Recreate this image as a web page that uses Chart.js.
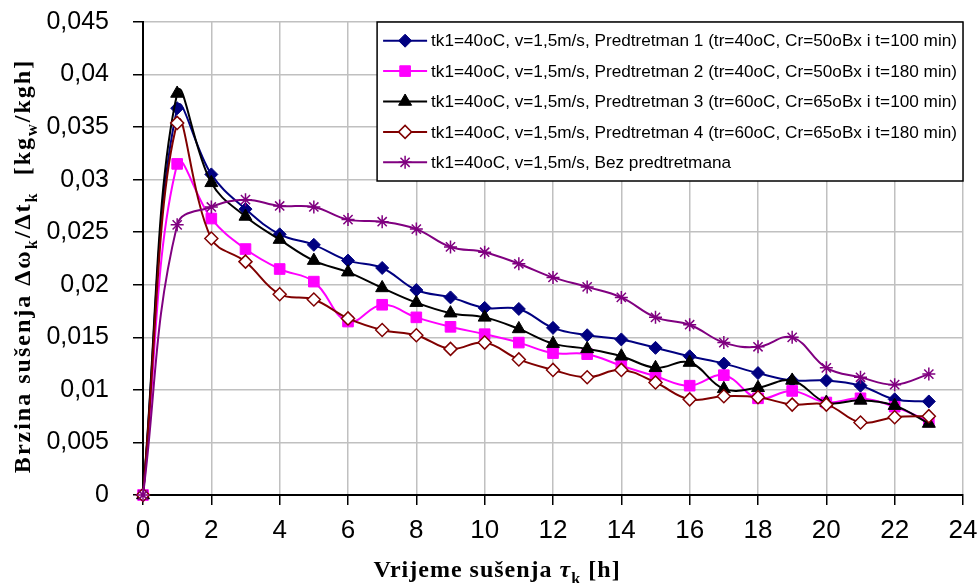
<!DOCTYPE html>
<html>
<head>
<meta charset="utf-8">
<title>Brzina sušenja</title>
<script src="https://cdn.jsdelivr.net/npm/chart.js@4.4.1/dist/chart.umd.min.js"></script>
<style>
  body { margin: 0; background: #fff; }
  #wrap { width: 980px; height: 583px; }
</style>
</head>
<body>
<div id="wrap"><canvas id="chart"></canvas></div>
<script>
// vrijeme susenja [h]
const hours = [0, 1, 2, 3, 4, 5, 6, 7, 8, 9, 10, 11, 12, 13, 14, 15, 16, 17, 18, 19, 20, 21, 22, 23];

// brzina susenja [kgw/kgh]
const predtretman1 = [0, 0.0368, 0.0305, 0.0272, 0.0248, 0.0238, 0.0223, 0.0216, 0.0195, 0.0188, 0.0178, 0.0177,
  0.0159, 0.0152, 0.0148, 0.0140, 0.0132, 0.0125, 0.0116, 0.0109, 0.0109, 0.0104, 0.0091, 0.0089];
const predtretman2 = [0, 0.0315, 0.0263, 0.0234, 0.0215, 0.0203, 0.0165, 0.0181, 0.0169, 0.0160, 0.0153, 0.0145,
  0.0135, 0.0134, 0.0123, 0.0113, 0.0104, 0.0114, 0.0092, 0.0099, 0.0088, 0.0092, 0.0084, 0.0070];
const predtretman3 = [0, 0.0382, 0.0297, 0.0265, 0.0243, 0.0223, 0.0212, 0.0197, 0.0183, 0.0173, 0.0169, 0.0158,
  0.0144, 0.0139, 0.0132, 0.0121, 0.0126, 0.0101, 0.0102, 0.0109, 0.0088, 0.0090, 0.0085, 0.0068];
const predtretman4 = [0, 0.0354, 0.0244, 0.0222, 0.0191, 0.0186, 0.0168, 0.0157, 0.0152, 0.0139, 0.0145, 0.0129,
  0.0119, 0.0112, 0.0119, 0.0107, 0.0091, 0.0094, 0.0093, 0.0086, 0.0086, 0.0069, 0.0074, 0.0075];
const bezPredtretmana = [0, 0.0257, 0.0274, 0.0281, 0.0275, 0.0274, 0.0262, 0.0260, 0.0253, 0.0236, 0.0231, 0.0220,
  0.0207, 0.0198, 0.0188, 0.0169, 0.0162, 0.0145, 0.0141, 0.0150, 0.0121, 0.0112, 0.0105, 0.0115];

const seriesNames = [
  'tk1=40oC, v=1,5m/s, Predtretman 1 (tr=40oC, Cr=50oBx i t=100 min)',
  'tk1=40oC, v=1,5m/s, Predtretman 2 (tr=40oC, Cr=50oBx i t=180 min)',
  'tk1=40oC, v=1,5m/s, Predtretman 3 (tr=60oC, Cr=65oBx i t=100 min)',
  'tk1=40oC, v=1,5m/s, Predtretman 4 (tr=60oC, Cr=65oBx i t=180 min)',
  'tk1=40oC, v=1,5m/s, Bez predtretmana'
];

const SANS = '"Liberation Sans", Arial, sans-serif';
const SERIF = '"Liberation Serif", "Times New Roman", serif';

function points(values) {
  return hours.map((h, i) => ({ x: h, y: values[i] }));
}

function series(idx, values, color, style, radius, fill, bw) {
  return {
    label: seriesNames[idx],
    data: points(values),
    borderColor: color,
    borderWidth: 2,
    tension: 0.4,
    pointStyle: style,
    pointRadius: radius,
    pointBackgroundColor: fill,
    pointBorderColor: color,
    pointBorderWidth: bw,
    clip: false,
    order: 5 - idx
  };
}

// text with subscripts, centred on x
function drawRich(ctx, parts, x, y, size, spacing) {
  const fontOf = p => (p.it ? 'italic ' : '') + 'bold ' + (p.sub ? size * 0.68 : size) + 'px ' + SERIF;
  ctx.letterSpacing = spacing + 'px';
  let total = 0;
  parts.forEach(p => { ctx.font = fontOf(p); p.w = ctx.measureText(p.t).width; total += p.w; });
  let cx = x - total / 2;
  parts.forEach(p => {
    ctx.font = fontOf(p);
    ctx.fillText(p.t, cx, y + (p.sub ? size * 0.28 : 0));
    cx += p.w;
  });
  ctx.letterSpacing = '0px';
}

const axisTitles = {
  id: 'axisTitles',
  afterDraw(chart) {
    const ctx = chart.ctx;
    ctx.save();
    ctx.fillStyle = '#000';
    ctx.textBaseline = 'alphabetic';
    drawRich(ctx, [
      { t: 'Vrijeme sušenja ' }, { t: 'τ', it: true }, { t: 'k', sub: true }, { t: ' [h]' }
    ], 497, 577, 24, 1);
    ctx.translate(30, 266);
    ctx.rotate(-Math.PI / 2);
    drawRich(ctx, [
      { t: 'Brzina sušenja Δω' }, { t: 'k', sub: true }, { t: '/Δt' }, { t: 'k', sub: true },
      { t: '  [kg' }, { t: 'w', sub: true }, { t: '/kgh]' }
    ], 0, 0, 24, 2);
    ctx.restore();
  }
};

const legendBox = {
  id: 'legendBox',
  afterDraw(chart) {
    const { ctx, chartArea } = chart;
    const sets = chart.data.datasets;
    const font = '17.2px ' + SANS;
    ctx.save();
    ctx.font = font;
    const maxW = Math.max(...sets.map(d => ctx.measureText(d.label).width));
    const right = chartArea.right, top = chartArea.top;
    const left = right - maxW - 60;
    const rowH = 30.4;
    const h = rowH * sets.length + 7;
    ctx.fillStyle = '#fff';
    ctx.fillRect(left, top, right - left, h);
    ctx.strokeStyle = '#000';
    ctx.lineWidth = 1.5;
    ctx.strokeRect(left, top, right - left, h);
    sets.forEach((ds, i) => {
      const y = top + 18.7 + i * rowH;
      ctx.strokeStyle = ds.borderColor;
      ctx.lineWidth = 2;
      ctx.beginPath();
      ctx.moveTo(left + 6, y);
      ctx.lineTo(left + 50, y);
      ctx.stroke();
      ctx.fillStyle = ds.pointBackgroundColor;
      ctx.strokeStyle = ds.pointBorderColor;
      ctx.lineWidth = ds.pointBorderWidth;
      Chart.helpers.drawPoint(ctx, {
        pointStyle: ds.pointStyle, radius: ds.pointRadius, rotation: 0, borderWidth: ds.pointBorderWidth
      }, left + 28, y);
      ctx.fillStyle = '#000';
      ctx.font = font;
      ctx.textBaseline = 'middle';
      ctx.fillText(ds.label, left + 54, y + 1);
    });
    ctx.restore();
  }
};

new Chart(document.getElementById('chart'), {
  type: 'line',
  data: {
    datasets: [
      series(0, predtretman1, '#000080', 'rectRot', 6.5, '#000080', 1),
      series(1, predtretman2, '#ff00ff', 'rect', 7.5, '#ff00ff', 1),
      series(2, predtretman3, '#000000', 'triangle', 7.5, '#000000', 1),
      series(3, predtretman4, '#800000', 'rectRot', 6.5, '#ffffff', 1.5),
      series(4, bezPredtretmana, '#800080', 'star', 6.5, '#800080', 1.5)
    ]
  },
  options: {
    responsive: true,
    maintainAspectRatio: false,
    animation: false,
    layout: { padding: { top: 22, right: 17, left: 0, bottom: 0 } },
    plugins: { legend: { display: false }, tooltip: { enabled: false } },
    scales: {
      x: {
        type: 'linear',
        min: 0,
        max: 24,
        afterFit: s => { s.height = 88; s.paddingLeft = 0; s.paddingRight = 0; },
        ticks: { stepSize: 2, color: '#000', padding: 10, font: { family: SANS, size: 26 } },
        grid: { color: '#c0c0c0', lineWidth: 1.5, tickColor: '#000', tickLength: 10, tickWidth: 1.5 },
        border: { color: '#000', width: 2 }
      },
      y: {
        min: 0,
        max: 0.045,
        afterFit: s => { s.width = 143; s.paddingTop = 0; s.paddingBottom = 0; },
        ticks: {
          stepSize: 0.005,
          color: '#000',
          padding: 24,
          font: { family: SANS, size: 25 },
          callback: v => String(Number(v.toFixed(4))).replace('.', ',')
        },
        grid: { color: '#c0c0c0', lineWidth: 1.5, tickColor: '#000', tickLength: 10, tickWidth: 1.5 },
        border: { color: '#000', width: 2 }
      }
    }
  },
  plugins: [legendBox, axisTitles]
});
</script>
</body>
</html>
